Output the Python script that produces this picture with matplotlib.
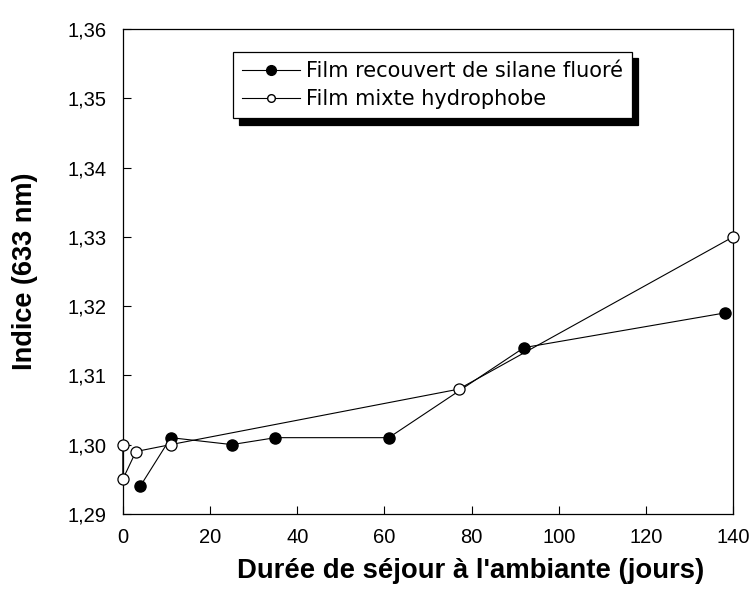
import matplotlib
matplotlib.use("Agg")
import matplotlib.pyplot as plt
from matplotlib.lines import Line2D
from matplotlib.ticker import FuncFormatter, MultipleLocator

plt.rcParams['font.family'] = ['Liberation Sans', 'DejaVu Sans']

# durée (jours) / indice à 633 nm
jours_silane = [4, 11, 25, 35, 61, 92, 138]
indice_silane = [1.294, 1.301, 1.300, 1.301, 1.301, 1.314, 1.319]

jours_mixte = [0, 0, 3, 11, 77, 140]
indice_mixte = [1.300, 1.295, 1.299, 1.300, 1.308, 1.330]

noms = ['Film recouvert de silane fluoré', 'Film mixte hydrophobe']

fig = plt.figure(figsize=(7.49, 5.92), dpi=100)
ax = fig.add_axes([0.164, 0.132, 0.815, 0.819])

ax.plot(jours_silane, indice_silane, '-o', color='black', lw=0.8,
        ms=8, mfc='black', mec='black', clip_on=False, zorder=3)
ax.plot(jours_mixte, indice_mixte, '-o', color='black', lw=0.8,
        ms=8, mfc='white', mec='black', mew=0.9, clip_on=False, zorder=4)

ax.set_xlim(0, 140)
ax.set_ylim(1.29, 1.36)
ax.xaxis.set_major_locator(MultipleLocator(20))
ax.yaxis.set_major_locator(MultipleLocator(0.01))
ax.yaxis.set_major_formatter(FuncFormatter(lambda v, p: f"{v:.2f}".replace('.', ',')))
ax.tick_params(direction='in', length=6, width=0.8, labelsize=14.5,
               top=False, right=False)
ax.tick_params(axis='x', pad=10)
ax.tick_params(axis='y', pad=12)
for s in ax.spines.values():
    s.set_linewidth(0.9)

ax.set_xlabel("Durée de séjour à l'ambiante (jours)", fontsize=19.8,
              fontweight='bold')
ax.xaxis.set_label_coords(0.569, -0.092)
ax.set_ylabel("Indice (633 nm)", fontsize=19.5, fontweight='bold', labelpad=21)

# poignées de légende : rond plein plus gros que le rond vide
poignees = [
    Line2D([], [], color='black', lw=0.8, marker='o', ms=7, mfc='black', mec='black'),
    Line2D([], [], color='black', lw=0.8, marker='o', ms=5.5, mfc='white', mec='black'),
]
leg = ax.legend(poignees, noms, loc='upper left', bbox_to_anchor=(0.180, 0.953),
                prop={'family': 'DejaVu Sans', 'size': 15},
                handlelength=2.8, handletextpad=0.25,
                borderpad=0.45, labelspacing=0.38, borderaxespad=0, fancybox=False,
                shadow={'color': 'black', 'alpha': 1, 'ox': 4.5, 'oy': -4.5},
                framealpha=1, edgecolor='black')
leg.get_frame().set_linewidth(0.9)

fig.savefig("out.png", dpi=100)
